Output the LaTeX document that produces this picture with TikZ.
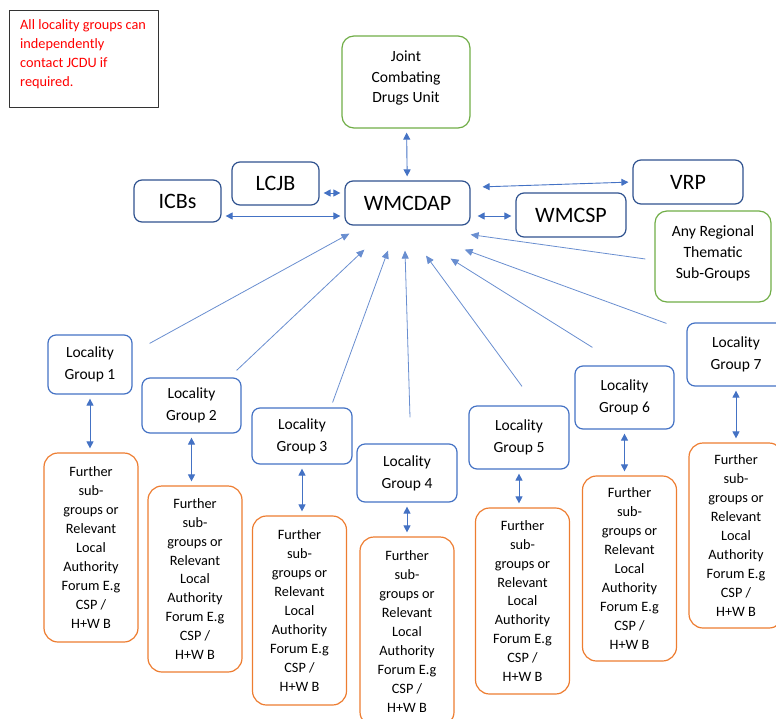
\documentclass[tikz,border=0pt]{standalone}
\usepackage{fontspec}
\setmainfont{Carlito}
\usetikzlibrary{arrows.meta,calc}
\definecolor{locblue}{HTML}{4472C4}
\definecolor{darkblue}{HTML}{2F528F}
\definecolor{regreen}{HTML}{70AD47}
\definecolor{suborange}{HTML}{ED7D31}
\newcommand{\furthertext}{Further\\sub-\\groups or\\Relevant\\Local\\Authority\\Forum E.g\\CSP /\\H+W B}

\begin{document}
\begin{tikzpicture}[x=1pt, y=-1pt, line join=round,
  box/.style={draw, rounded corners=8pt, line width=1.2pt, align=center, inner sep=0pt},
  mainbox/.style={box, draw=darkblue, font=\fontsize{22}{26}\selectfont},
  locbox/.style={box, draw=locblue, font=\fontsize{15.5}{22}\selectfont},
  subbox/.style={box, draw=suborange, rounded corners=14pt, font=\fontsize{14.3}{18.9}\selectfont},
  greenbox/.style={box, draw=regreen, rounded corners=12pt},
  link/.style={locblue, line width=0.9pt, {Triangle[length=7pt,width=7pt]}-{Triangle[length=7pt,width=7pt]}, shorten <=4pt, shorten >=4pt},
  feed/.style={locblue!80, line width=0.8pt, -{Triangle[length=8pt,width=7pt]}}]
\clip (0,0) rectangle (776,718);
\node[draw=black!80, line width=1pt, minimum width=149pt, minimum height=97pt, anchor=north west] (note) at (9,10) {};
\node[anchor=north west, align=left, text=red, font=\fontsize{14.3}{19}\selectfont, inner sep=0pt] (notetext) at ([shift={(11,9)}]note.north west) {All locality groups can\\independently\\contact JCDU if\\required.};
\node[greenbox, minimum width=128pt, minimum height=92pt, text depth=10pt, font=\fontsize{15.6}{20.5}\selectfont] (jcdu) at (406,82) {Joint\\Combating\\Drugs Unit};
\node[mainbox, minimum width=125pt, minimum height=44pt] (wmcdap) at (407.5,203) {WMCDAP};
\node[mainbox, minimum width=87pt, minimum height=43pt] (lcjb) at (275.5,183.5) {LCJB};
\node[mainbox, minimum width=87pt, minimum height=42pt] (icbs) at (177.5,201) {ICBs};
\node[mainbox, minimum width=110pt, minimum height=44pt] (vrp) at (688,182) {VRP};
\node[mainbox, minimum width=110pt, minimum height=44pt] (wmcsp) at (571,215) {WMCSP};
\node[greenbox, minimum width=116pt, minimum height=91pt, text depth=8pt, font=\fontsize{15.7}{21}\selectfont] (regional) at (713,256.5) {Any Regional\\Thematic\\Sub-Groups};
\draw[link] (jcdu) -- (wmcdap);
\draw[link] ([shift={(0,9.5)}]lcjb.east) -- ([shift={(0,9.5)}]lcjb.east -| wmcdap.west);
\draw[link] ([shift={(0,15)}]icbs.east) -- ([shift={(0,15)}]icbs.east -| wmcdap.west);
\draw[link] ([shift={(8,-16)}]wmcdap.east) -- (vrp.west);
\draw[link] ([shift={(3,13)}]wmcdap.east) -- ([shift={(0,1)}]wmcsp.west);
\foreach \n/\lx/\ly/\lw/\lh/\ox/\oy/\oh in {1/90/364.5/84/59/91/547.5/189, 2/191.5/405.5/99/55/195/579/186, 3/302/436/100/56/299.5/610.5/189, 4/407/473/100/58/407/631.5/189, 5/519/437.5/100/63/522.5/601/186, 6/624.5/397.5/99/63/629.5/568.5/185, 7/736/354.5/98/63/736/535.5/185} {
  \node[locbox, minimum width=\lw pt, minimum height=\lh pt] (lg\n) at (\lx,\ly) {Locality\\Group \n};
  \node[subbox, minimum width=94pt, minimum height=\oh pt] (sub\n) at (\ox,\oy) {\furthertext};
  \draw[link] (lg\n.south) -- (lg\n.south |- sub\n.north);
}
\draw[feed] ([shift={(-9,2.5)}]regional.west) -- ([shift={(0,9)}]wmcdap.south east);
\draw[feed] ([shift={(-20,1)}]lg7.north west) -- ([shift={(-6,24)}]wmcdap.south east);
\draw[feed] ([shift={(18,-18)}]lg6.north west) -- ([shift={(-20,33)}]wmcdap.south east);
\draw[feed] ([shift={(3,-19)}]lg5.north) -- ([shift={(18.5,30)}]wmcdap.south);
\draw[feed] ([shift={(3,-26)}]lg4.north) -- ([shift={(-2.5,25)}]wmcdap.south);
\draw[feed] ([shift={(-20,-5)}]lg3.north east) -- ([shift={(-19.5,25)}]wmcdap.south);
\draw[feed] ([shift={(-5,-7)}]lg2.north east) -- ([shift={(20,24)}]wmcdap.south west);
\draw[feed] ([shift={(17,9)}]lg1.north east) -- ([shift={(5,8)}]wmcdap.south west);
\end{tikzpicture}
\end{document}
